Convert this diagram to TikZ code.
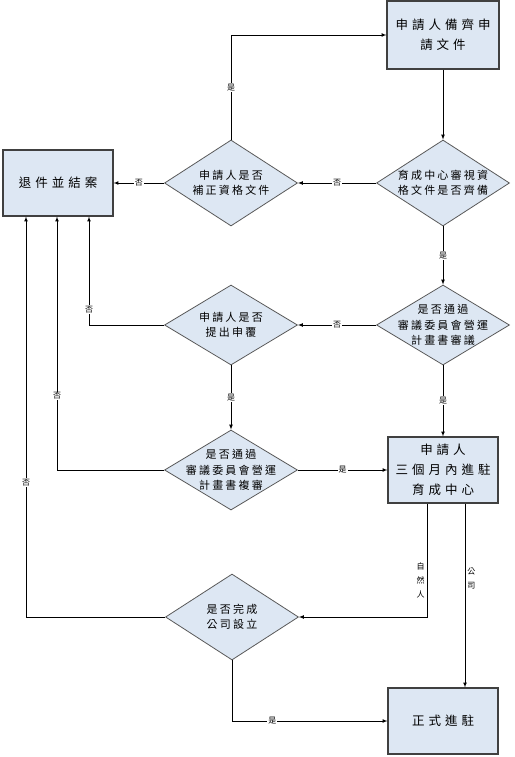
\documentclass[tikz,border=0pt]{standalone}
\usepackage{fontspec}
\setmainfont{Noto Sans CJK TC}
\newfontfamily\boxcjk[LetterSpace=32]{Noto Sans CJK TC}
\newfontfamily\decidecjk[LetterSpace=20]{Noto Sans CJK TC}
\usetikzlibrary{arrows, shapes.geometric}
\definecolor{boxblue}{HTML}{DDE7F3}

\begin{document}
\begin{tikzpicture}[x=1pt,y=-1pt,>=latex,
  procbox/.style={draw=black!75,line width=1.1pt,fill=boxblue,minimum width=110pt,minimum height=66pt,
    align=center,font=\boxcjk\fontsize{12.5}{20}\selectfont},
  decide/.style={diamond,draw=black!65,line width=0.8pt,fill=boxblue,minimum width=133pt,minimum height=84pt,
    inner sep=0pt},
  decidetext/.style={inner sep=0pt,align=center,font=\decidecjk\fontsize{11}{15.5}\selectfont},
  flow/.style={->,line width=0.7pt},
  tag/.style={fill=white,inner sep=1pt,font=\fontsize{8}{9}\selectfont},
  sidetag/.style={inner sep=2pt,align=center,font=\fontsize{8}{14}\selectfont}]

\useasboundingbox (0,0) rectangle (514,757);

% boxes
\node[procbox, minimum width=112pt, minimum height=68pt] (apply) at (443,35) {申請人備齊申\\請文件};
\node[procbox] (reject) at (58,183) {退件並結案};
\node[procbox] (enter3m) at (443,470) {申請人\\三個月內進駐\\育成中心};
\node[procbox] (formal) at (443,721) {正式進駐};

% decisions (text set as centre labels so the diamonds keep their size)
\node[decide, minimum height=86pt, label={[decidetext]center:{育成中心審視資\\格文件是否齊備}}] (review) at (443,183) {};
\node[decide, minimum height=86pt, label={[decidetext]center:{申請人是否\\補正資格文件}}] (supply) at (231,183) {};
\node[decide, minimum height=80pt, label={[decidetext]center:{是否通過\\審議委員會營運\\計畫書審議}}] (pass1) at (443,325) {};
\node[decide, minimum height=80pt, label={[decidetext]center:{申請人是否\\提出申覆}}] (appeal) at (231,325) {};
\node[decide, minimum height=80pt, label={[decidetext]center:{是否通過\\審議委員會營運\\計畫書複審}}] (pass2) at (231,470) {};
\node[decide, minimum height=86pt, label={[decidetext]center:{是否完成\\公司設立}}] (company) at (232,617) {};

% connectors
\draw[flow] (apply) -- (review);
\draw[flow] (review) -- node[tag] {否} (supply);
\draw[flow] (supply.north) |- node[tag, pos=0.25] {是} (apply.west);
\draw[flow] (supply) -- node[tag] {否} (reject);
\draw[flow] (review) -- node[tag] {是} (pass1);
\draw[flow] (pass1) -- node[tag] {否} (appeal);
\draw[flow] (appeal.west) -| node[tag, pos=0.57] {否} ([xshift=31pt]reject.south);
\draw[flow] (appeal) -- node[tag] {是} (pass2);
\draw[flow] (pass1) -- node[tag] {是} (enter3m);
\draw[flow] (pass2) -- node[tag] {是} (enter3m);
\draw[flow] (pass2.west) -| node[tag, pos=0.646] {否} ([xshift=-1pt]reject.south);
\draw[flow] (company.west) -| node[tag, pos=0.668] {否} ([xshift=-32pt]reject.south);
\draw[flow] ([xshift=-16pt]enter3m.south) |- node[sidetag, pos=0.34, left] {自\\然\\人} (company.east);
\draw[flow] ([xshift=22pt]enter3m.south) -- node[sidetag, pos=0.41, right] {公\\司} ([xshift=22pt]formal.north);
\draw[flow] (company.south) |- node[tag, pos=0.63] {是} (formal.west);

\end{tikzpicture}
\end{document}
